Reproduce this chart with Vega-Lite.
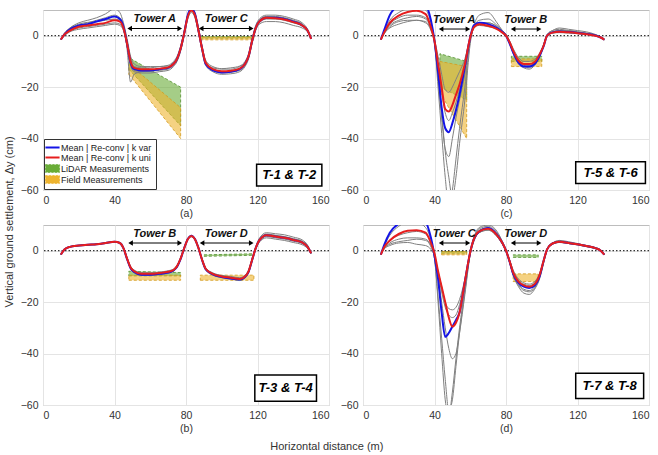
{
"$schema":"https://vega.github.io/schema/vega-lite/v6.json",
"padding":{"left":3,"top":9,"right":3,"bottom":3},
"background":"white",
"config":{
 "font":"Liberation Sans",
 "view":{"stroke":"#bdbdbd","strokeWidth":1},
 "axis":{"labelFont":"Liberation Sans","labelFontSize":10.5,"labelColor":"#333","titleFont":"Liberation Sans","titleFontSize":10.5,"titleFontWeight":"normal","titleColor":"#333","titlePadding":3,"gridColor":"#e4e4e4","domain":false,"ticks":false,"labelPadding":5}
},
"datasets":{
"curves":[
{"p":"a","x":10,"r":-1.5,"b":-1.5,"g1":-1.5,"g2":-1.5,"g3":-1.5,"g4":-1.5,"g5":-1.5},
{"p":"a","x":12,"r":0.5,"b":0.5,"g1":1,"g2":0,"g3":0.5,"g4":0.8,"g5":0.2},
{"p":"a","x":15,"r":2,"b":2.5,"g1":3,"g2":1.5,"g3":2.5,"g4":2.8,"g5":1.8},
{"p":"a","x":20,"r":3.5,"b":4,"g1":5,"g2":2.5,"g3":4,"g4":4.5,"g5":3},
{"p":"a","x":25,"r":4,"b":4.5,"g1":6,"g2":3,"g3":5,"g4":5.2,"g5":3.5},
{"p":"a","x":30,"r":4.5,"b":5.5,"g1":7,"g2":3.5,"g3":6,"g4":5.5,"g5":4},
{"p":"a","x":35,"r":5,"b":6.5,"g1":8.5,"g2":4,"g3":7,"g4":6,"g5":4.5},
{"p":"a","x":40,"r":6,"b":7.5,"g1":10.5,"g2":4.5,"g3":8,"g4":6.5,"g5":5},
{"p":"a","x":43,"r":5.5,"b":6.5,"g1":9,"g2":4,"g3":7,"g4":6,"g5":4.5},
{"p":"a","x":45,"r":3,"b":3.5,"g1":5,"g2":2,"g3":4,"g4":4,"g5":2.5},
{"p":"a","x":47,"r":-3,"b":-3,"g1":-1,"g2":-4,"g3":-5,"g4":-2,"g5":-3.5},
{"p":"a","x":49,"r":-10,"b":-10.5,"g1":-8,"g2":-11.5,"g3":-18,"g4":-9,"g5":-11},
{"p":"a","x":51,"r":-12.5,"b":-13,"g1":-11,"g2":-14,"g3":-15,"g4":-12,"g5":-13.5},
{"p":"a","x":55,"r":-13,"b":-13.5,"g1":-12,"g2":-14.5,"g3":-14,"g4":-12.5,"g5":-14},
{"p":"a","x":60,"r":-13,"b":-13.5,"g1":-12,"g2":-14.5,"g3":-13.5,"g4":-12.5,"g5":-13.8},
{"p":"a","x":65,"r":-12.8,"b":-13,"g1":-12,"g2":-14,"g3":-13,"g4":-12,"g5":-13.5},
{"p":"a","x":70,"r":-12.3,"b":-12.5,"g1":-11.5,"g2":-13.5,"g3":-12.5,"g4":-11.8,"g5":-13},
{"p":"a","x":73,"r":-11,"b":-11,"g1":-10,"g2":-12,"g3":-11,"g4":-10.5,"g5":-11.5},
{"p":"a","x":75,"r":-9,"b":-9,"g1":-8,"g2":-10,"g3":-9,"g4":-8.5,"g5":-9.5},
{"p":"a","x":77,"r":-5,"b":-5,"g1":-4,"g2":-6,"g3":-5,"g4":-4.5,"g5":-5.5},
{"p":"a","x":79,"r":1,"b":1,"g1":2,"g2":0,"g3":1,"g4":1.5,"g5":0.5},
{"p":"a","x":81,"r":7.5,"b":8,"g1":8,"g2":6.5,"g3":7.5,"g4":8,"g5":7},
{"p":"a","x":83,"r":9.8,"b":10.5,"g1":10.5,"g2":9,"g3":10,"g4":10,"g5":9.5},
{"p":"a","x":85,"r":8,"b":8.5,"g1":9,"g2":7,"g3":8,"g4":8.5,"g5":7.5},
{"p":"a","x":87,"r":2,"b":2,"g1":3,"g2":1,"g3":2,"g4":2.5,"g5":1.5},
{"p":"a","x":89,"r":-5,"b":-5,"g1":-4,"g2":-6,"g3":-5,"g4":-4.5,"g5":-5.5},
{"p":"a","x":91,"r":-10.5,"b":-11,"g1":-9.5,"g2":-11.5,"g3":-10.5,"g4":-10,"g5":-11},
{"p":"a","x":95,"r":-13,"b":-13.5,"g1":-12,"g2":-14,"g3":-13,"g4":-12.5,"g5":-13.5},
{"p":"a","x":100,"r":-13.8,"b":-14.3,"g1":-12.8,"g2":-15,"g3":-14,"g4":-13,"g5":-14.5},
{"p":"a","x":105,"r":-13.6,"b":-14,"g1":-12.5,"g2":-14.8,"g3":-13.8,"g4":-13,"g5":-14.2},
{"p":"a","x":110,"r":-12.8,"b":-13,"g1":-11.8,"g2":-14,"g3":-13,"g4":-12,"g5":-13.5},
{"p":"a","x":113,"r":-11,"b":-11,"g1":-10,"g2":-12,"g3":-11,"g4":-10.5,"g5":-11.5},
{"p":"a","x":115,"r":-8,"b":-8,"g1":-7,"g2":-9,"g3":-8,"g4":-7.5,"g5":-8.5},
{"p":"a","x":117,"r":-2,"b":-2,"g1":-1,"g2":-3,"g3":-2,"g4":-1.5,"g5":-2.5},
{"p":"a","x":119,"r":3,"b":3,"g1":4,"g2":2,"g3":3,"g4":3.5,"g5":2.5},
{"p":"a","x":121,"r":5.5,"b":5.5,"g1":6.5,"g2":4.5,"g3":6,"g4":6,"g5":5},
{"p":"a","x":125,"r":7,"b":7,"g1":8,"g2":5.5,"g3":7.5,"g4":7.5,"g5":6.5},
{"p":"a","x":130,"r":6.8,"b":7,"g1":8,"g2":5.5,"g3":7.5,"g4":7.2,"g5":6.5},
{"p":"a","x":135,"r":6.3,"b":6.5,"g1":7.5,"g2":5,"g3":7,"g4":6.8,"g5":6},
{"p":"a","x":140,"r":5.3,"b":5.5,"g1":6.5,"g2":4,"g3":6,"g4":5.8,"g5":5},
{"p":"a","x":145,"r":4,"b":4,"g1":5,"g2":3,"g3":4.5,"g4":4.5,"g5":3.8},
{"p":"a","x":148,"r":2,"b":2,"g1":2.5,"g2":1.5,"g3":2,"g4":2.2,"g5":1.8},
{"p":"a","x":150,"r":-1.2,"b":-1.2,"g1":-1.2,"g2":-1.2,"g3":-1.2,"g4":-1.2,"g5":-1.2},

{"p":"b","x":10,"r":-1.5,"b":-1.5,"g1":-1.5,"g2":-1.5,"g3":-1.5,"g4":-1.5,"g5":-1.5},
{"p":"b","x":12,"r":0.5,"b":0.5,"g1":0.6,"g2":0.4,"g3":0.5,"g4":0.5,"g5":0.5},
{"p":"b","x":15,"r":1.5,"b":1.5,"g1":1.6,"g2":1.4,"g3":1.5,"g4":1.5,"g5":1.5},
{"p":"b","x":20,"r":2,"b":2,"g1":2.1,"g2":1.9,"g3":2,"g4":2,"g5":2},
{"p":"b","x":25,"r":2.3,"b":2.3,"g1":2.4,"g2":2.2,"g3":2.3,"g4":2.3,"g5":2.3},
{"p":"b","x":30,"r":2.5,"b":2.5,"g1":2.6,"g2":2.4,"g3":2.5,"g4":2.5,"g5":2.5},
{"p":"b","x":35,"r":3,"b":3,"g1":3.1,"g2":2.9,"g3":3,"g4":3,"g5":3},
{"p":"b","x":40,"r":3.5,"b":3.5,"g1":3.6,"g2":3.4,"g3":3.5,"g4":3.5,"g5":3.5},
{"p":"b","x":43,"r":3,"b":3,"g1":3.2,"g2":2.8,"g3":3,"g4":3,"g5":3},
{"p":"b","x":45,"r":1,"b":1,"g1":1.3,"g2":0.7,"g3":1,"g4":1,"g5":1},
{"p":"b","x":47,"r":-3,"b":-3.2,"g1":-2.6,"g2":-3.4,"g3":-3,"g4":-2.8,"g5":-3.2},
{"p":"b","x":49,"r":-6.5,"b":-6.8,"g1":-6,"g2":-7,"g3":-6.5,"g4":-6.2,"g5":-6.8},
{"p":"b","x":51,"r":-8,"b":-8.3,"g1":-7.5,"g2":-8.6,"g3":-8,"g4":-7.8,"g5":-8.4},
{"p":"b","x":55,"r":-9,"b":-9.3,"g1":-8.5,"g2":-9.6,"g3":-9,"g4":-8.8,"g5":-9.4},
{"p":"b","x":60,"r":-9,"b":-9.3,"g1":-8.6,"g2":-9.6,"g3":-9.1,"g4":-8.8,"g5":-9.4},
{"p":"b","x":65,"r":-8.7,"b":-9,"g1":-8.3,"g2":-9.3,"g3":-8.8,"g4":-8.5,"g5":-9},
{"p":"b","x":70,"r":-8.2,"b":-8.5,"g1":-7.8,"g2":-8.8,"g3":-8.3,"g4":-8,"g5":-8.5},
{"p":"b","x":73,"r":-7.5,"b":-7.7,"g1":-7.1,"g2":-8,"g3":-7.5,"g4":-7.3,"g5":-7.8},
{"p":"b","x":75,"r":-6,"b":-6.2,"g1":-5.6,"g2":-6.5,"g3":-6,"g4":-5.8,"g5":-6.3},
{"p":"b","x":77,"r":-3,"b":-3.2,"g1":-2.7,"g2":-3.4,"g3":-3,"g4":-2.9,"g5":-3.2},
{"p":"b","x":79,"r":1,"b":1,"g1":1.3,"g2":0.8,"g3":1,"g4":1.1,"g5":0.9},
{"p":"b","x":81,"r":4.5,"b":4.6,"g1":4.8,"g2":4.3,"g3":4.5,"g4":4.6,"g5":4.4},
{"p":"b","x":83,"r":5.7,"b":5.8,"g1":6,"g2":5.4,"g3":5.7,"g4":5.8,"g5":5.6},
{"p":"b","x":85,"r":4.5,"b":4.6,"g1":4.8,"g2":4.2,"g3":4.5,"g4":4.6,"g5":4.4},
{"p":"b","x":87,"r":1,"b":1,"g1":1.3,"g2":0.7,"g3":1,"g4":1.1,"g5":0.9},
{"p":"b","x":89,"r":-3.5,"b":-3.6,"g1":-3.1,"g2":-3.9,"g3":-3.5,"g4":-3.3,"g5":-3.7},
{"p":"b","x":91,"r":-7,"b":-7.2,"g1":-6.6,"g2":-7.5,"g3":-7,"g4":-6.8,"g5":-7.3},
{"p":"b","x":95,"r":-9,"b":-9.2,"g1":-8.6,"g2":-9.5,"g3":-9,"g4":-8.8,"g5":-9.3},
{"p":"b","x":100,"r":-10,"b":-10.2,"g1":-9.6,"g2":-10.5,"g3":-10,"g4":-9.8,"g5":-10.3},
{"p":"b","x":105,"r":-10.5,"b":-10.8,"g1":-10,"g2":-11,"g3":-10.5,"g4":-10.3,"g5":-10.8},
{"p":"b","x":110,"r":-11,"b":-11.2,"g1":-10.5,"g2":-11.6,"g3":-11,"g4":-10.7,"g5":-11.3},
{"p":"b","x":113,"r":-10,"b":-10.2,"g1":-9.5,"g2":-10.6,"g3":-10,"g4":-9.8,"g5":-10.3},
{"p":"b","x":115,"r":-8,"b":-8.2,"g1":-7.5,"g2":-8.6,"g3":-8,"g4":-7.8,"g5":-8.3},
{"p":"b","x":117,"r":-3.5,"b":-3.6,"g1":-3,"g2":-4,"g3":-3.5,"g4":-3.3,"g5":-3.7},
{"p":"b","x":119,"r":1,"b":1,"g1":1.5,"g2":0.5,"g3":1,"g4":1.2,"g5":0.8},
{"p":"b","x":121,"r":4,"b":4,"g1":4.8,"g2":3.3,"g3":4,"g4":4.4,"g5":3.6},
{"p":"b","x":125,"r":6,"b":6,"g1":7,"g2":5,"g3":6.5,"g4":6.3,"g5":5.5},
{"p":"b","x":130,"r":5.5,"b":5.5,"g1":6.6,"g2":4.5,"g3":6,"g4":5.9,"g5":5},
{"p":"b","x":135,"r":5,"b":5,"g1":6.2,"g2":4,"g3":5.5,"g4":5.4,"g5":4.5},
{"p":"b","x":140,"r":4.2,"b":4.2,"g1":5.3,"g2":3.2,"g3":4.7,"g4":4.6,"g5":3.7},
{"p":"b","x":145,"r":3.2,"b":3.2,"g1":4.2,"g2":2.3,"g3":3.7,"g4":3.6,"g5":2.8},
{"p":"b","x":148,"r":1.5,"b":1.5,"g1":2.2,"g2":0.9,"g3":1.8,"g4":1.7,"g5":1.2},
{"p":"b","x":150,"r":-1,"b":-1,"g1":-0.8,"g2":-1.2,"g3":-1,"g4":-1,"g5":-1},

{"p":"c","x":10,"r":-1.5,"b":-1.5,"g1":-1.5,"g2":-1.5,"g3":-1.5,"g4":-1.5,"g5":-1.5},
{"p":"c","x":12,"r":1.5,"b":2.5,"g1":1,"g2":1.5,"g3":1,"g4":2,"g5":1.2},
{"p":"c","x":15,"r":5,"b":8,"g1":3.5,"g2":4.5,"g3":3,"g4":6,"g5":4},
{"p":"c","x":20,"r":7.8,"b":12,"g1":5.5,"g2":7,"g3":4.5,"g4":9,"g5":6},
{"p":"c","x":25,"r":9.2,"b":14,"g1":6,"g2":8,"g3":5.5,"g4":10.5,"g5":7},
{"p":"c","x":30,"r":9.7,"b":14,"g1":6,"g2":8,"g3":6,"g4":11,"g5":7.5},
{"p":"c","x":35,"r":8.4,"b":12,"g1":5,"g2":7,"g3":5.5,"g4":10,"g5":6.5},
{"p":"c","x":38,"r":3.2,"b":6,"g1":2,"g2":3,"g3":2.5,"g4":5,"g5":3},
{"p":"c","x":40,"r":-2,"b":-2,"g1":-3,"g2":-2,"g3":-1.5,"g4":-2,"g5":-2.5},
{"p":"c","x":42,"r":-11,"b":-14,"g1":-20,"g2":-15,"g3":-8,"g4":-12,"g5":-17},
{"p":"c","x":44,"r":-20,"b":-28,"g1":-38,"g2":-30,"g3":-15,"g4":-22,"g5":-32},
{"p":"c","x":46,"r":-28.5,"b":-36,"g1":-55,"g2":-45,"g3":-21,"g4":-30,"g5":-44},
{"p":"c","x":48,"r":-29.5,"b":-37.5,"g1":-66,"g2":-55,"g3":-22,"g4":-33,"g5":-47},
{"p":"c","x":50,"r":-27,"b":-34,"g1":-60,"g2":-63,"g3":-20,"g4":-30,"g5":-40},
{"p":"c","x":52,"r":-23,"b":-29,"g1":-48,"g2":-55,"g3":-17,"g4":-26,"g5":-32},
{"p":"c","x":54,"r":-19,"b":-23,"g1":-36,"g2":-42,"g3":-14,"g4":-21,"g5":-25},
{"p":"c","x":57,"r":-11,"b":-12,"g1":-20,"g2":-25,"g3":-9,"g4":-13,"g5":-15},
{"p":"c","x":60,"r":-0.6,"b":-0.5,"g1":-2,"g2":-3,"g3":-0.5,"g4":-1,"g5":-1.5},
{"p":"c","x":62,"r":3.2,"b":4,"g1":3,"g2":3.5,"g3":3,"g4":4,"g5":3},
{"p":"c","x":65,"r":4.5,"b":5,"g1":5,"g2":6,"g3":4,"g4":8,"g5":5},
{"p":"c","x":70,"r":3.9,"b":4.5,"g1":5,"g2":6.5,"g3":3.5,"g4":9,"g5":5},
{"p":"c","x":75,"r":2.6,"b":3,"g1":3.5,"g2":4,"g3":2.5,"g4":5,"g5":3.5},
{"p":"c","x":78,"r":1.2,"b":1.5,"g1":1.5,"g2":2,"g3":1,"g4":2,"g5":1.5},
{"p":"c","x":80,"r":0,"b":0,"g1":0,"g2":0.3,"g3":0,"g4":0.5,"g5":0},
{"p":"c","x":82,"r":-2.5,"b":-3,"g1":-3,"g2":-2.5,"g3":-2,"g4":-2,"g5":-3},
{"p":"c","x":84,"r":-5.8,"b":-6.5,"g1":-6.5,"g2":-6,"g3":-5,"g4":-5.5,"g5":-7},
{"p":"c","x":87,"r":-9.7,"b":-10.5,"g1":-10.5,"g2":-10,"g3":-8.5,"g4":-9.5,"g5":-11},
{"p":"c","x":90,"r":-11,"b":-12,"g1":-12,"g2":-11.5,"g3":-10,"g4":-11,"g5":-12.5},
{"p":"c","x":93,"r":-11,"b":-12,"g1":-12.5,"g2":-12,"g3":-10,"g4":-11.5,"g5":-13},
{"p":"c","x":96,"r":-10.2,"b":-11,"g1":-11,"g2":-10.5,"g3":-9.2,"g4":-10.5,"g5":-11.5},
{"p":"c","x":99,"r":-7,"b":-7.5,"g1":-7.5,"g2":-7,"g3":-6.5,"g4":-7,"g5":-8},
{"p":"c","x":101,"r":-4,"b":-4.2,"g1":-4,"g2":-3.8,"g3":-3.5,"g4":-3.5,"g5":-4.2},
{"p":"c","x":103,"r":0,"b":0,"g1":0,"g2":0.3,"g3":0,"g4":0.5,"g5":0},
{"p":"c","x":106,"r":1.2,"b":1.3,"g1":1.5,"g2":2,"g3":1,"g4":2,"g5":1.5},
{"p":"c","x":110,"r":1.5,"b":1.6,"g1":2,"g2":2.5,"g3":1.2,"g4":3,"g5":2},
{"p":"c","x":115,"r":1.3,"b":1.4,"g1":2,"g2":2,"g3":1,"g4":2.5,"g5":1.8},
{"p":"c","x":120,"r":1,"b":1.1,"g1":1.5,"g2":1.5,"g3":0.8,"g4":2,"g5":1.3},
{"p":"c","x":125,"r":0.6,"b":0.7,"g1":1,"g2":1,"g3":0.5,"g4":1.5,"g5":0.8},
{"p":"c","x":130,"r":0,"b":0.1,"g1":0.3,"g2":0.3,"g3":0,"g4":0.5,"g5":0.2},
{"p":"c","x":133,"r":-0.7,"b":-0.7,"g1":-0.5,"g2":-0.5,"g3":-0.7,"g4":-0.5,"g5":-0.6},
{"p":"c","x":135,"r":-1.5,"b":-1.5,"g1":-1.5,"g2":-1.5,"g3":-1.5,"g4":-1.5,"g5":-1.5},

{"p":"d","x":10,"r":-1.5,"b":-1.5,"g1":-1.5,"g2":-1.5,"g3":-1.5,"g4":-1.5,"g5":-1.5},
{"p":"d","x":12,"r":1.5,"b":2.5,"g1":1,"g2":1,"g3":0.8,"g4":1.5,"g5":2},
{"p":"d","x":15,"r":4,"b":7,"g1":2.5,"g2":3,"g3":2,"g4":4,"g5":6},
{"p":"d","x":20,"r":6.5,"b":10.5,"g1":3.5,"g2":4.5,"g3":3,"g4":6,"g5":9.5},
{"p":"d","x":25,"r":7.8,"b":12,"g1":4,"g2":5,"g3":3.2,"g4":7,"g5":11},
{"p":"d","x":30,"r":8,"b":12,"g1":4.5,"g2":5,"g3":2.5,"g4":7.5,"g5":11},
{"p":"d","x":35,"r":7,"b":11,"g1":4,"g2":4.5,"g3":2,"g4":6.5,"g5":9},
{"p":"d","x":38,"r":3,"b":5,"g1":1.5,"g2":2,"g3":0.5,"g4":3,"g5":4},
{"p":"d","x":40,"r":-1,"b":-2,"g1":-3,"g2":-2,"g3":-2,"g4":-1.5,"g5":-3},
{"p":"d","x":42,"r":-8,"b":-11,"g1":-20,"g2":-10,"g3":-8,"g4":-9,"g5":-18},
{"p":"d","x":44,"r":-14,"b":-24,"g1":-40,"g2":-20,"g3":-14,"g4":-16,"g5":-34},
{"p":"d","x":46,"r":-20,"b":-33.5,"g1":-58,"g2":-30,"g3":-20,"g4":-22,"g5":-50},
{"p":"d","x":48,"r":-26,"b":-32,"g1":-64,"g2":-38,"g3":-22.5,"g4":-25,"g5":-62},
{"p":"d","x":50,"r":-29.5,"b":-29.5,"g1":-55,"g2":-42,"g3":-23,"g4":-26,"g5":-58},
{"p":"d","x":52,"r":-28,"b":-27,"g1":-42,"g2":-40,"g3":-22,"g4":-25,"g5":-45},
{"p":"d","x":54,"r":-24,"b":-24,"g1":-30,"g2":-32,"g3":-19,"g4":-21,"g5":-32},
{"p":"d","x":57,"r":-12,"b":-12,"g1":-15,"g2":-17,"g3":-11,"g4":-12,"g5":-16},
{"p":"d","x":60,"r":-0.5,"b":-0.5,"g1":-1,"g2":-1.5,"g3":-0.5,"g4":0,"g5":-1},
{"p":"d","x":62,"r":4.5,"b":4.5,"g1":4,"g2":3.5,"g3":4,"g4":5,"g5":5},
{"p":"d","x":65,"r":7.5,"b":7.5,"g1":8,"g2":7,"g3":7,"g4":8.5,"g5":9},
{"p":"d","x":70,"r":8.5,"b":8.8,"g1":9,"g2":8,"g3":8,"g4":9.5,"g5":10},
{"p":"d","x":75,"r":6,"b":6.2,"g1":6.5,"g2":5.5,"g3":5.5,"g4":7,"g5":7.5},
{"p":"d","x":78,"r":3,"b":3,"g1":3,"g2":2.5,"g3":2.5,"g4":3.5,"g5":3.5},
{"p":"d","x":80,"r":0,"b":0,"g1":0,"g2":-0.3,"g3":0,"g4":0.5,"g5":0},
{"p":"d","x":82,"r":-4,"b":-4.2,"g1":-4.5,"g2":-4.5,"g3":-3.5,"g4":-3.5,"g5":-4.5},
{"p":"d","x":84,"r":-8.5,"b":-9,"g1":-9.5,"g2":-9,"g3":-7.5,"g4":-8,"g5":-9.5},
{"p":"d","x":87,"r":-12,"b":-12.5,"g1":-13.5,"g2":-13,"g3":-11,"g4":-11.5,"g5":-14},
{"p":"d","x":90,"r":-13.5,"b":-14,"g1":-15.5,"g2":-15,"g3":-12.5,"g4":-13,"g5":-16.5},
{"p":"d","x":93,"r":-14,"b":-14.5,"g1":-16,"g2":-15.5,"g3":-13,"g4":-13.5,"g5":-17},
{"p":"d","x":96,"r":-13,"b":-13.5,"g1":-14.5,"g2":-14,"g3":-12,"g4":-12.5,"g5":-15},
{"p":"d","x":99,"r":-9,"b":-9.5,"g1":-10,"g2":-9.5,"g3":-8.5,"g4":-8.5,"g5":-10.5},
{"p":"d","x":101,"r":-4,"b":-4,"g1":-4.5,"g2":-4.5,"g3":-4,"g4":-3.8,"g5":-5},
{"p":"d","x":103,"r":0.5,"b":0.5,"g1":0.5,"g2":0.3,"g3":0.5,"g4":0.8,"g5":0.3},
{"p":"d","x":106,"r":2.8,"b":2.8,"g1":3,"g2":2.5,"g3":2.6,"g4":3,"g5":3},
{"p":"d","x":110,"r":3.5,"b":3.5,"g1":3.5,"g2":3.3,"g3":3.2,"g4":3.8,"g5":4},
{"p":"d","x":115,"r":3,"b":3,"g1":3,"g2":2.8,"g3":2.8,"g4":3.3,"g5":3.5},
{"p":"d","x":120,"r":2.5,"b":2.5,"g1":2.5,"g2":2.3,"g3":2.3,"g4":2.7,"g5":2.8},
{"p":"d","x":125,"r":1.8,"b":1.8,"g1":1.8,"g2":1.6,"g3":1.6,"g4":2,"g5":2},
{"p":"d","x":130,"r":1,"b":1,"g1":1,"g2":0.8,"g3":0.8,"g4":1.2,"g5":1.2},
{"p":"d","x":133,"r":0,"b":0,"g1":0,"g2":0,"g3":0,"g4":0.2,"g5":0.2},
{"p":"d","x":135,"r":-1.5,"b":-1.5,"g1":-1.5,"g2":-1.5,"g3":-1.5,"g4":-1.5,"g5":-1.5}
],
"bands":[
{"p":"a","s":"LiDAR Measurements","k":"L1","x":48,"lo":-13,"hi":-8.5},
{"p":"a","s":"LiDAR Measurements","k":"L1","x":77,"lo":-35,"hi":-20},
{"p":"a","s":"Field Measurements","k":"F1","x":48,"lo":-15,"hi":-11},
{"p":"a","s":"Field Measurements","k":"F1","x":77,"lo":-40,"hi":-28},
{"p":"a","s":"LiDAR Measurements","k":"L2","x":88,"lo":-1,"hi":-0.3},
{"p":"a","s":"LiDAR Measurements","k":"L2","x":118,"lo":-1,"hi":-0.3},
{"p":"a","s":"Field Measurements","k":"F2","x":88,"lo":-1.6,"hi":-0.5},
{"p":"a","s":"Field Measurements","k":"F2","x":118,"lo":-1.6,"hi":-0.5},
{"p":"b","s":"LiDAR Measurements","k":"L1","x":48,"lo":-9.8,"hi":-8},
{"p":"b","s":"LiDAR Measurements","k":"L1","x":77,"lo":-9.8,"hi":-8.5},
{"p":"b","s":"Field Measurements","k":"F1","x":48,"lo":-11.5,"hi":-9.5},
{"p":"b","s":"Field Measurements","k":"F1","x":77,"lo":-11.5,"hi":-9.5},
{"p":"b","s":"LiDAR Measurements","k":"L2","x":90,"lo":-2.2,"hi":-1.6},
{"p":"b","s":"LiDAR Measurements","k":"L2","x":117,"lo":-1.8,"hi":-1.2},
{"p":"b","s":"Field Measurements","k":"F2","x":88,"lo":-11.5,"hi":-9.5},
{"p":"b","s":"Field Measurements","k":"F2","x":118,"lo":-11.5,"hi":-9.5},
{"p":"c","s":"LiDAR Measurements","k":"L1","x":43,"lo":-20,"hi":-7},
{"p":"c","s":"LiDAR Measurements","k":"L1","x":58,"lo":-25,"hi":-10},
{"p":"c","s":"Field Measurements","k":"F1","x":43,"lo":-22,"hi":-10},
{"p":"c","s":"Field Measurements","k":"F1","x":58,"lo":-40,"hi":-12},
{"p":"c","s":"LiDAR Measurements","k":"L2","x":83,"lo":-10,"hi":-8},
{"p":"c","s":"LiDAR Measurements","k":"L2","x":100,"lo":-10,"hi":-8},
{"p":"c","s":"Field Measurements","k":"F2","x":83,"lo":-12,"hi":-9},
{"p":"c","s":"Field Measurements","k":"F2","x":100,"lo":-12,"hi":-9},
{"p":"d","s":"LiDAR Measurements","k":"L1","x":44,"lo":-1,"hi":-0.3},
{"p":"d","s":"LiDAR Measurements","k":"L1","x":58,"lo":-1,"hi":-0.3},
{"p":"d","s":"Field Measurements","k":"F1","x":44,"lo":-1.6,"hi":-0.3},
{"p":"d","s":"Field Measurements","k":"F1","x":58,"lo":-1.6,"hi":-0.3},
{"p":"d","s":"LiDAR Measurements","k":"L2","x":84,"lo":-2.6,"hi":-1.6},
{"p":"d","s":"LiDAR Measurements","k":"L2","x":98,"lo":-2.6,"hi":-1.6},
{"p":"d","s":"Field Measurements","k":"F2","x":84,"lo":-12,"hi":-9},
{"p":"d","s":"Field Measurements","k":"F2","x":98,"lo":-12,"hi":-9}
],
"towers":[
{"p":"a","name":"Tower A","x1":48.5,"x2":76.5,"xm":62.5,"ay":2.8,"ty":6.5},
{"p":"a","name":"Tower C","x1":88.5,"x2":116.5,"xm":102.5,"ay":2.8,"ty":6.5},
{"p":"b","name":"Tower B","x1":49,"x2":76.5,"xm":62.5,"ay":3,"ty":6.6},
{"p":"b","name":"Tower D","x1":89,"x2":116.5,"xm":102.5,"ay":3,"ty":6.6},
{"p":"c","name":"Tower A","x1":43.7,"x2":58.7,"xm":51,"ay":2.6,"ty":6.3},
{"p":"c","name":"Tower B","x1":84,"x2":98.5,"xm":91,"ay":2.6,"ty":6.3},
{"p":"d","name":"Tower C","x1":43.7,"x2":58.7,"xm":51,"ay":3,"ty":6.6},
{"p":"d","name":"Tower D","x1":84,"x2":98.5,"xm":91,"ay":3,"ty":6.6}
],
"boxes":[
{"p":"a","label":"T-1 & T-2","x1":119.5,"x2":156,"y1":-50,"y2":-58.4,"xm":137.75,"ym":-54.2},
{"p":"b","label":"T-3 & T-4","x1":118.5,"x2":153,"y1":-48.3,"y2":-58.5,"xm":135.75,"ym":-53.4},
{"p":"c","label":"T-5 & T-6","x1":119,"x2":158,"y1":-49,"y2":-57.5,"xm":138.5,"ym":-53.2},
{"p":"d","label":"T-7 & T-8","x1":119,"x2":157,"y1":-47.7,"y2":-57.5,"xm":138,"ym":-52.6}
]
},
"title":{"text":"Horizontal distance (m)","orient":"bottom","anchor":"middle","fontSize":11,"fontWeight":"normal","font":"Liberation Sans","color":"#333","offset":6},
"resolve":{"scale":{"color":"independent","fill":"independent","stroke":"independent"},"legend":{"color":"independent"}},
"hconcat":[
{"title":{"text":"Vertical ground settlement, Δy (cm)","orient":"left","anchor":"middle","fontSize":11,"fontWeight":"normal","font":"Liberation Sans","color":"#333","offset":5},
 "resolve":{"scale":{"color":"independent","fill":"independent","stroke":"independent"},"legend":{"color":"independent"}},
 "spacing":4,
 "vconcat":[
  {"spacing":9,
   "resolve":{"scale":{"color":"independent","fill":"independent","stroke":"independent"},"legend":{"color":"independent"}},
   "hconcat":[
   {"width":286,"height":180,
    "layer":[
     {"data":{"name":"bands"},"transform":[{"filter":"datum.p==='a'"}],
      "mark":{"type":"area","fillOpacity":0.6,"strokeDash":[3,2],"strokeWidth":0.8,"clip":true},
      "encoding":{
       "x":{"field":"x","type":"quantitative","scale":{"domain":[0,160],"nice":false,"zero":false},"axis":{"values":[0,20,40,60,80,100,120,140,160],"title":"(a)","grid":true}},
       "y":{"field":"lo","type":"quantitative","scale":{"domain":[-60,10],"nice":false,"zero":false},"axis":{"values":[-60,-40,-20,0],"title":null,"grid":true}},
       "y2":{"field":"hi"},
       "detail":{"field":"k"},
       "color":{"field":"s","type":"nominal","scale":{"domain":["Mean | Re-conv | k var","Mean | Re-conv | k uni","LiDAR Measurements","Field Measurements"],"range":["#1414e6","#e61e1e","#69ac37","#eeb42f"]},
        "legend":{"orient":"bottom-left","offset":1,"title":null,"fillColor":"white","strokeColor":"#333","padding":4,"labelFontSize":9,"labelFont":"Liberation Sans","labelColor":"#222","symbolStrokeWidth":2,"symbolSize":200,"rowPadding":0,"labelOffset":4,"labelLimit":200,"symbolType":"stroke",
         "encode":{"symbols":{"update":{
          "shape":{"signal":"datum.value=='LiDAR Measurements'||datum.value=='Field Measurements' ? 'M-1,-0.55H1V0.55H-1Z' : 'M-1,0H1'"},
          "fill":{"signal":"datum.value=='LiDAR Measurements' ? '#b5d89c' : datum.value=='Field Measurements' ? '#f7d98f' : 'transparent'"},
          "stroke":{"signal":"datum.value=='LiDAR Measurements' ? '#7fb25a' : datum.value=='Field Measurements' ? '#e3b44a' : datum.value=='Mean | Re-conv | k var' ? '#1414e6' : '#e61e1e'"},
          "strokeWidth":{"signal":"datum.value=='LiDAR Measurements'||datum.value=='Field Measurements' ? 0.8 : 2"},
          "strokeDash":{"signal":"datum.value=='LiDAR Measurements'||datum.value=='Field Measurements' ? [2,1.5] : [1,0]"},
          "opacity":{"value":1}}}}}},
       "stroke":{"field":"s","type":"nominal","scale":{"domain":["LiDAR Measurements","Field Measurements"],"range":["#4f8f2a","#d49a1a"]},"legend":null}
      }},
     {"data":{"values":[{}]},"mark":{"type":"rule","strokeDash":[1.5,2],"color":"black","strokeWidth":1},"encoding":{"y":{"datum":0}}},
     {"data":{"name":"curves"},"transform":[{"filter":"datum.p==='a'"},{"fold":["g1","g2","g3","g4","g5"],"as":["g","v"]}],
      "mark":{"type":"line","color":"#808080","strokeWidth":1,"clip":true,"interpolate":"monotone"},
      "encoding":{"x":{"field":"x","type":"quantitative"},"y":{"field":"v","type":"quantitative"},"detail":{"field":"g"}}},
     {"data":{"name":"curves"},"transform":[{"filter":"datum.p==='a'"}],
      "mark":{"type":"line","strokeWidth":2,"clip":true,"interpolate":"monotone"},
      "encoding":{"x":{"field":"x","type":"quantitative"},"y":{"field":"b","type":"quantitative"},"color":{"datum":"Mean | Re-conv | k var"}}},
     {"data":{"name":"curves"},"transform":[{"filter":"datum.p==='a'"}],
      "mark":{"type":"line","strokeWidth":2,"clip":true,"interpolate":"monotone"},
      "encoding":{"x":{"field":"x","type":"quantitative"},"y":{"field":"r","type":"quantitative"},"color":{"datum":"Mean | Re-conv | k uni"}}},
     {"data":{"name":"towers"},"transform":[{"filter":"datum.p==='a'"}],
      "mark":{"type":"rule","color":"black","strokeWidth":1},
      "encoding":{"x":{"field":"x1","type":"quantitative"},"x2":{"field":"x2"},"y":{"field":"ay","type":"quantitative"}}},
     {"data":{"name":"towers"},"transform":[{"filter":"datum.p==='a'"}],
      "mark":{"type":"point","shape":"triangle-left","filled":true,"color":"black","size":28,"opacity":1},
      "encoding":{"x":{"field":"x1","type":"quantitative"},"y":{"field":"ay","type":"quantitative"}}},
     {"data":{"name":"towers"},"transform":[{"filter":"datum.p==='a'"}],
      "mark":{"type":"point","shape":"triangle-right","filled":true,"color":"black","size":28,"opacity":1},
      "encoding":{"x":{"field":"x2","type":"quantitative"},"y":{"field":"ay","type":"quantitative"}}},
     {"data":{"name":"towers"},"transform":[{"filter":"datum.p==='a'"}],
      "mark":{"type":"text","fontStyle":"italic","fontWeight":"bold","fontSize":11,"font":"Liberation Sans","color":"#111"},
      "encoding":{"x":{"field":"xm","type":"quantitative"},"y":{"field":"ty","type":"quantitative"},"text":{"field":"name"}}},
     {"data":{"name":"boxes"},"transform":[{"filter":"datum.p==='a'"}],
      "mark":{"type":"rect","fill":"white","stroke":"black","strokeWidth":1.5},
      "encoding":{"x":{"field":"x1","type":"quantitative"},"x2":{"field":"x2"},"y":{"field":"y1","type":"quantitative"},"y2":{"field":"y2"}}},
     {"data":{"name":"boxes"},"transform":[{"filter":"datum.p==='a'"}],
      "mark":{"type":"text","fontStyle":"italic","fontWeight":"bold","fontSize":13,"font":"Liberation Sans","color":"black"},
      "encoding":{"x":{"field":"xm","type":"quantitative"},"y":{"field":"ym","type":"quantitative"},"text":{"field":"label"}}}
    ]},
   {"width":286,"height":180,
    "layer":[
     {"data":{"name":"bands"},"transform":[{"filter":"datum.p==='c'"}],
      "mark":{"type":"area","fillOpacity":0.6,"strokeDash":[3,2],"strokeWidth":0.8,"clip":true},
      "encoding":{
       "x":{"field":"x","type":"quantitative","scale":{"domain":[0,160],"nice":false,"zero":false},"axis":{"values":[0,20,40,60,80,100,120,140,160],"title":"(c)","grid":true}},
       "y":{"field":"lo","type":"quantitative","scale":{"domain":[-60,10],"nice":false,"zero":false},"axis":{"values":[-60,-40,-20,0],"title":null,"grid":true}},
       "y2":{"field":"hi"},
       "detail":{"field":"k"},
       "fill":{"field":"s","type":"nominal","scale":{"domain":["LiDAR Measurements","Field Measurements"],"range":["#69ac37","#eeb42f"]},"legend":null},
       "stroke":{"field":"s","type":"nominal","scale":{"domain":["LiDAR Measurements","Field Measurements"],"range":["#4f8f2a","#d49a1a"]},"legend":null}
      }},
     {"data":{"values":[{}]},"mark":{"type":"rule","strokeDash":[1.5,2],"color":"black","strokeWidth":1},"encoding":{"y":{"datum":0}}},
     {"data":{"name":"curves"},"transform":[{"filter":"datum.p==='c'"},{"fold":["g1","g2","g3","g4","g5"],"as":["g","v"]}],
      "mark":{"type":"line","color":"#808080","strokeWidth":1,"clip":true,"interpolate":"monotone"},
      "encoding":{"x":{"field":"x","type":"quantitative"},"y":{"field":"v","type":"quantitative"},"detail":{"field":"g"}}},
     {"data":{"name":"curves"},"transform":[{"filter":"datum.p==='c'"}],
      "mark":{"type":"line","strokeWidth":2,"clip":true,"interpolate":"monotone","color":"#1414e6"},
      "encoding":{"x":{"field":"x","type":"quantitative"},"y":{"field":"b","type":"quantitative"}}},
     {"data":{"name":"curves"},"transform":[{"filter":"datum.p==='c'"}],
      "mark":{"type":"line","strokeWidth":2,"clip":true,"interpolate":"monotone","color":"#e61e1e"},
      "encoding":{"x":{"field":"x","type":"quantitative"},"y":{"field":"r","type":"quantitative"}}},
     {"data":{"name":"towers"},"transform":[{"filter":"datum.p==='c'"}],
      "mark":{"type":"rule","color":"black","strokeWidth":1},
      "encoding":{"x":{"field":"x1","type":"quantitative"},"x2":{"field":"x2"},"y":{"field":"ay","type":"quantitative"}}},
     {"data":{"name":"towers"},"transform":[{"filter":"datum.p==='c'"}],
      "mark":{"type":"point","shape":"triangle-left","filled":true,"color":"black","size":28,"opacity":1},
      "encoding":{"x":{"field":"x1","type":"quantitative"},"y":{"field":"ay","type":"quantitative"}}},
     {"data":{"name":"towers"},"transform":[{"filter":"datum.p==='c'"}],
      "mark":{"type":"point","shape":"triangle-right","filled":true,"color":"black","size":28,"opacity":1},
      "encoding":{"x":{"field":"x2","type":"quantitative"},"y":{"field":"ay","type":"quantitative"}}},
     {"data":{"name":"towers"},"transform":[{"filter":"datum.p==='c'"}],
      "mark":{"type":"text","fontStyle":"italic","fontWeight":"bold","fontSize":11,"font":"Liberation Sans","color":"#111"},
      "encoding":{"x":{"field":"xm","type":"quantitative"},"y":{"field":"ty","type":"quantitative"},"text":{"field":"name"}}},
     {"data":{"name":"boxes"},"transform":[{"filter":"datum.p==='c'"}],
      "mark":{"type":"rect","fill":"white","stroke":"black","strokeWidth":1.5},
      "encoding":{"x":{"field":"x1","type":"quantitative"},"x2":{"field":"x2"},"y":{"field":"y1","type":"quantitative"},"y2":{"field":"y2"}}},
     {"data":{"name":"boxes"},"transform":[{"filter":"datum.p==='c'"}],
      "mark":{"type":"text","fontStyle":"italic","fontWeight":"bold","fontSize":13,"font":"Liberation Sans","color":"black"},
      "encoding":{"x":{"field":"xm","type":"quantitative"},"y":{"field":"ym","type":"quantitative"},"text":{"field":"label"}}}
    ]}
  ]},
  {"spacing":9,
   "resolve":{"scale":{"color":"independent","fill":"independent","stroke":"independent"},"legend":{"color":"independent"}},
   "hconcat":[
   {"width":286,"height":180,
    "layer":[
     {"data":{"name":"bands"},"transform":[{"filter":"datum.p==='b'"}],
      "mark":{"type":"area","fillOpacity":0.6,"strokeDash":[3,2],"strokeWidth":0.8,"clip":true},
      "encoding":{
       "x":{"field":"x","type":"quantitative","scale":{"domain":[0,160],"nice":false,"zero":false},"axis":{"values":[0,20,40,60,80,100,120,140,160],"title":"(b)","grid":true}},
       "y":{"field":"lo","type":"quantitative","scale":{"domain":[-60,10],"nice":false,"zero":false},"axis":{"values":[-60,-40,-20,0],"title":null,"grid":true}},
       "y2":{"field":"hi"},
       "detail":{"field":"k"},
       "fill":{"field":"s","type":"nominal","scale":{"domain":["LiDAR Measurements","Field Measurements"],"range":["#69ac37","#eeb42f"]},"legend":null},
       "stroke":{"field":"s","type":"nominal","scale":{"domain":["LiDAR Measurements","Field Measurements"],"range":["#4f8f2a","#d49a1a"]},"legend":null}
      }},
     {"data":{"values":[{}]},"mark":{"type":"rule","strokeDash":[1.5,2],"color":"black","strokeWidth":1},"encoding":{"y":{"datum":0}}},
     {"data":{"name":"curves"},"transform":[{"filter":"datum.p==='b'"},{"fold":["g1","g2","g3","g4","g5"],"as":["g","v"]}],
      "mark":{"type":"line","color":"#808080","strokeWidth":1,"clip":true,"interpolate":"monotone"},
      "encoding":{"x":{"field":"x","type":"quantitative"},"y":{"field":"v","type":"quantitative"},"detail":{"field":"g"}}},
     {"data":{"name":"curves"},"transform":[{"filter":"datum.p==='b'"}],
      "mark":{"type":"line","strokeWidth":2,"clip":true,"interpolate":"monotone","color":"#1414e6"},
      "encoding":{"x":{"field":"x","type":"quantitative"},"y":{"field":"b","type":"quantitative"}}},
     {"data":{"name":"curves"},"transform":[{"filter":"datum.p==='b'"}],
      "mark":{"type":"line","strokeWidth":2,"clip":true,"interpolate":"monotone","color":"#e61e1e"},
      "encoding":{"x":{"field":"x","type":"quantitative"},"y":{"field":"r","type":"quantitative"}}},
     {"data":{"name":"towers"},"transform":[{"filter":"datum.p==='b'"}],
      "mark":{"type":"rule","color":"black","strokeWidth":1},
      "encoding":{"x":{"field":"x1","type":"quantitative"},"x2":{"field":"x2"},"y":{"field":"ay","type":"quantitative"}}},
     {"data":{"name":"towers"},"transform":[{"filter":"datum.p==='b'"}],
      "mark":{"type":"point","shape":"triangle-left","filled":true,"color":"black","size":28,"opacity":1},
      "encoding":{"x":{"field":"x1","type":"quantitative"},"y":{"field":"ay","type":"quantitative"}}},
     {"data":{"name":"towers"},"transform":[{"filter":"datum.p==='b'"}],
      "mark":{"type":"point","shape":"triangle-right","filled":true,"color":"black","size":28,"opacity":1},
      "encoding":{"x":{"field":"x2","type":"quantitative"},"y":{"field":"ay","type":"quantitative"}}},
     {"data":{"name":"towers"},"transform":[{"filter":"datum.p==='b'"}],
      "mark":{"type":"text","fontStyle":"italic","fontWeight":"bold","fontSize":11,"font":"Liberation Sans","color":"#111"},
      "encoding":{"x":{"field":"xm","type":"quantitative"},"y":{"field":"ty","type":"quantitative"},"text":{"field":"name"}}},
     {"data":{"name":"boxes"},"transform":[{"filter":"datum.p==='b'"}],
      "mark":{"type":"rect","fill":"white","stroke":"black","strokeWidth":1.5},
      "encoding":{"x":{"field":"x1","type":"quantitative"},"x2":{"field":"x2"},"y":{"field":"y1","type":"quantitative"},"y2":{"field":"y2"}}},
     {"data":{"name":"boxes"},"transform":[{"filter":"datum.p==='b'"}],
      "mark":{"type":"text","fontStyle":"italic","fontWeight":"bold","fontSize":13,"font":"Liberation Sans","color":"black"},
      "encoding":{"x":{"field":"xm","type":"quantitative"},"y":{"field":"ym","type":"quantitative"},"text":{"field":"label"}}}
    ]},
   {"width":286,"height":180,
    "layer":[
     {"data":{"name":"bands"},"transform":[{"filter":"datum.p==='d'"}],
      "mark":{"type":"area","fillOpacity":0.6,"strokeDash":[3,2],"strokeWidth":0.8,"clip":true},
      "encoding":{
       "x":{"field":"x","type":"quantitative","scale":{"domain":[0,160],"nice":false,"zero":false},"axis":{"values":[0,20,40,60,80,100,120,140,160],"title":"(d)","grid":true}},
       "y":{"field":"lo","type":"quantitative","scale":{"domain":[-60,10],"nice":false,"zero":false},"axis":{"values":[-60,-40,-20,0],"title":null,"grid":true}},
       "y2":{"field":"hi"},
       "detail":{"field":"k"},
       "fill":{"field":"s","type":"nominal","scale":{"domain":["LiDAR Measurements","Field Measurements"],"range":["#69ac37","#eeb42f"]},"legend":null},
       "stroke":{"field":"s","type":"nominal","scale":{"domain":["LiDAR Measurements","Field Measurements"],"range":["#4f8f2a","#d49a1a"]},"legend":null}
      }},
     {"data":{"values":[{}]},"mark":{"type":"rule","strokeDash":[1.5,2],"color":"black","strokeWidth":1},"encoding":{"y":{"datum":0}}},
     {"data":{"name":"curves"},"transform":[{"filter":"datum.p==='d'"},{"fold":["g1","g2","g3","g4","g5"],"as":["g","v"]}],
      "mark":{"type":"line","color":"#808080","strokeWidth":1,"clip":true,"interpolate":"monotone"},
      "encoding":{"x":{"field":"x","type":"quantitative"},"y":{"field":"v","type":"quantitative"},"detail":{"field":"g"}}},
     {"data":{"name":"curves"},"transform":[{"filter":"datum.p==='d'"}],
      "mark":{"type":"line","strokeWidth":2,"clip":true,"interpolate":"monotone","color":"#1414e6"},
      "encoding":{"x":{"field":"x","type":"quantitative"},"y":{"field":"b","type":"quantitative"}}},
     {"data":{"name":"curves"},"transform":[{"filter":"datum.p==='d'"}],
      "mark":{"type":"line","strokeWidth":2,"clip":true,"interpolate":"monotone","color":"#e61e1e"},
      "encoding":{"x":{"field":"x","type":"quantitative"},"y":{"field":"r","type":"quantitative"}}},
     {"data":{"name":"towers"},"transform":[{"filter":"datum.p==='d'"}],
      "mark":{"type":"rule","color":"black","strokeWidth":1},
      "encoding":{"x":{"field":"x1","type":"quantitative"},"x2":{"field":"x2"},"y":{"field":"ay","type":"quantitative"}}},
     {"data":{"name":"towers"},"transform":[{"filter":"datum.p==='d'"}],
      "mark":{"type":"point","shape":"triangle-left","filled":true,"color":"black","size":28,"opacity":1},
      "encoding":{"x":{"field":"x1","type":"quantitative"},"y":{"field":"ay","type":"quantitative"}}},
     {"data":{"name":"towers"},"transform":[{"filter":"datum.p==='d'"}],
      "mark":{"type":"point","shape":"triangle-right","filled":true,"color":"black","size":28,"opacity":1},
      "encoding":{"x":{"field":"x2","type":"quantitative"},"y":{"field":"ay","type":"quantitative"}}},
     {"data":{"name":"towers"},"transform":[{"filter":"datum.p==='d'"}],
      "mark":{"type":"text","fontStyle":"italic","fontWeight":"bold","fontSize":11,"font":"Liberation Sans","color":"#111"},
      "encoding":{"x":{"field":"xm","type":"quantitative"},"y":{"field":"ty","type":"quantitative"},"text":{"field":"name"}}},
     {"data":{"name":"boxes"},"transform":[{"filter":"datum.p==='d'"}],
      "mark":{"type":"rect","fill":"white","stroke":"black","strokeWidth":1.5},
      "encoding":{"x":{"field":"x1","type":"quantitative"},"x2":{"field":"x2"},"y":{"field":"y1","type":"quantitative"},"y2":{"field":"y2"}}},
     {"data":{"name":"boxes"},"transform":[{"filter":"datum.p==='d'"}],
      "mark":{"type":"text","fontStyle":"italic","fontWeight":"bold","fontSize":13,"font":"Liberation Sans","color":"black"},
      "encoding":{"x":{"field":"xm","type":"quantitative"},"y":{"field":"ym","type":"quantitative"},"text":{"field":"label"}}}
    ]}
  ]}
 ]}
]
}
